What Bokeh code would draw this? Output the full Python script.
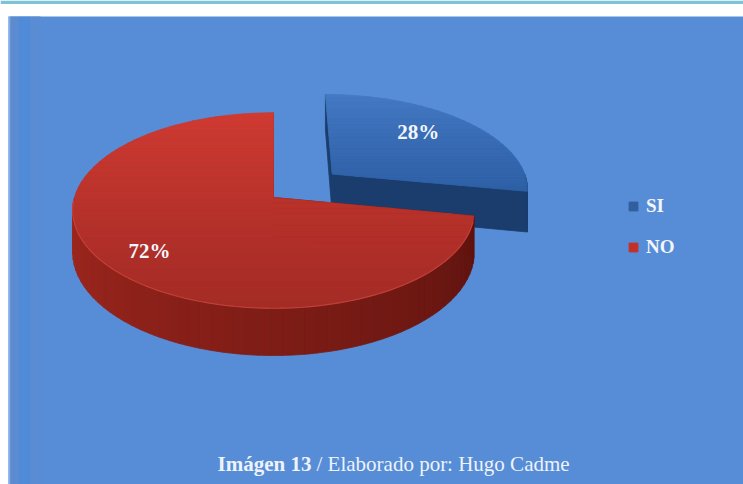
import numpy as np
from bokeh.plotting import figure
from bokeh.models import Range1d, ColumnDataSource, Legend, LegendItem
from bokeh.core.properties import value
from bokeh.embed import file_html
from bokeh.resources import INLINE

# ---------------- data ----------------
categories = ["SI", "NO"]
values = [28, 72]
pct_labels = ["28%", "72%"]
caption_bold = "Imágen 13"
caption_rest = "/ Elaborado por: Hugo Cadme"

# ---------------- style / geometry ----------------
W, H = 743, 484
X0, Y0 = 273.0, 197.0       # pie centre on screen
RX, RY = 199.0, 96.0        # ellipse radii
PERSP = 0.133               # mild perspective
DEPTH = 41.0                # thickness of the pie
EXPLODE = [0.395, 0.0]
START = 90.0
LABEL_R = [0.70, 0.78]
LABEL_SHIFT = [5.4, 2.4]    # degrees
top_colors = [("#4479c3", "#2d5fa5"), ("#d03a31", "#a42b25")]
side_colors = [("#1f467e", "#1a3d70"), ("#a2281f", "#5a110d")]
wall_colors = ["#1b3d6d", "#5e120e"]
legend_colors = ["#2f5f9f", "#c3302a"]
FONT = "Liberation Serif"


def proj(u, v, h=0.0):
    s = 1.0 / (1.0 + PERSP * v)
    return X0 + s * u * RX, Y0 - s * v * RY + s * h * DEPTH


def hex2rgb(c):
    c = c.lstrip("#")
    return np.array([int(c[i:i + 2], 16) for i in (0, 2, 4)], dtype=float)


def mix(c1, c2, f):
    a, b = hex2rgb(c1), hex2rgb(c2)
    r = a + (b - a) * f
    return "#%02x%02x%02x" % tuple(int(round(x)) for x in r)


def clip_half(poly, vcut, keep_above):
    out = []
    n = len(poly)
    for i in range(n):
        a, b = poly[i], poly[(i + 1) % n]
        ina = (a[1] >= vcut) if keep_above else (a[1] <= vcut)
        inb = (b[1] >= vcut) if keep_above else (b[1] <= vcut)
        if ina:
            out.append(a)
        if ina != inb:
            t = (vcut - a[1]) / (b[1] - a[1])
            out.append((a[0] + t * (b[0] - a[0]), vcut))
    return out


p = figure(width=W, height=H, x_range=Range1d(0, W), y_range=Range1d(H, 0),
           output_backend="svg", toolbar_location=None,
           x_axis_type=None, y_axis_type=None, min_border=0,
           background_fill_color="white", border_fill_color="white")
p.grid.visible = False
p.outline_line_color = None

# page decoration: teal rule and blue panel
p.quad(left=[0], right=[W], top=[0], bottom=[3.5], fill_color="#7ec2d5", line_color=None)
p.quad(left=[8], right=[W], top=[16], bottom=[H], fill_color="#578dd6", line_color=None)
p.quad(left=[8, 10, 18, 30], right=[10, 18, 30, 40], top=[16] * 4, bottom=[H] * 4,
       fill_color=["#86aee6", "#5d8bcf", "#4f8bd7", "#5a8cd3"], line_color=None)

total = float(sum(values))
cum = 0.0
slices = []
for i, val in enumerate(values):
    a_hi = START - cum / total * 360.0
    a_lo = START - (cum + val) / total * 360.0
    cum += val
    mid = np.radians((a_lo + a_hi) / 2.0)
    cu, cv = EXPLODE[i] * np.cos(mid), EXPLODE[i] * np.sin(mid)
    slices.append((a_lo, a_hi, cu, cv, mid))

label_pos = []
# draw back slice (SI) first, then the front one (NO)
for i in [0, 1]:
    a_lo, a_hi, cu, cv, mid = slices[i]
    # radial walls
    for th in (a_lo, a_hi):
        t = np.radians(th)
        ru, rv = cu + np.cos(t), cv + np.sin(t)
        pts = [proj(cu, cv, 0), proj(ru, rv, 0), proj(ru, rv, 1), proj(cu, cv, 1)]
        p.patch([q[0] for q in pts], [q[1] for q in pts], fill_color=wall_colors[i],
                line_color=wall_colors[i], line_width=0.8)
    # visible outer rim (front half)
    segs = []
    for k in range(-2, 2):
        lo, hi = max(a_lo, -180 + 360 * k), min(a_hi, 360 * k)
        if hi > lo:
            segs.append((lo, hi))
    xs_s, ys_s, cols_s = [], [], []
    for lo, hi in segs:
        n = max(2, int(np.ceil((hi - lo) / 3.0)))
        edges = np.linspace(lo, hi, n + 1)
        for j in range(n):
            tt = np.radians(np.linspace(edges[j], edges[j + 1], 4))
            top = [proj(cu + np.cos(t), cv + np.sin(t), 0) for t in tt]
            bot = [proj(cu + np.cos(t), cv + np.sin(t), 1) for t in tt[::-1]]
            pts = top + bot
            xs_s.append([q[0] for q in pts])
            ys_s.append([q[1] for q in pts])
            f = ((edges[j] + edges[j + 1]) / 2 - (-180)) / 180.0
            f = min(max(f, 0), 1)
            cols_s.append(mix(side_colors[i][0], side_colors[i][1], f))
    if xs_s:
        p.patches(xs=xs_s, ys=ys_s, fill_color=cols_s, line_color=cols_s, line_width=0.8)
    # top face with vertical gradient (bands in v)
    arc = np.radians(np.linspace(a_lo, a_hi, 240))
    poly = [(cu, cv)] + [(cu + np.cos(t), cv + np.sin(t)) for t in arc]
    vmin, vmax = min(q[1] for q in poly), max(q[1] for q in poly)
    nb = 36
    vb = np.linspace(vmin, vmax, nb + 1)
    xs_t, ys_t, cols_t = [], [], []
    for j in range(nb):
        band = clip_half(clip_half(poly, vb[j], True), vb[j + 1], False)
        if len(band) < 3:
            continue
        pts = [proj(u, v, 0) for u, v in band]
        xs_t.append([q[0] for q in pts])
        ys_t.append([q[1] for q in pts])
        f = (vmax - (vb[j] + vb[j + 1]) / 2.0) / max(1e-9, (vmax - vmin))
        cols_t.append(mix(top_colors[i][0], top_colors[i][1], min(max(f, 0), 1)))
    p.patches(xs=xs_t, ys=ys_t, fill_color=cols_t, line_color=cols_t, line_width=0.8)
    # percentage label position
    la = mid + np.radians(LABEL_SHIFT[i])
    label_pos.append(proj(cu + LABEL_R[i] * np.cos(la), cv + LABEL_R[i] * np.sin(la), 0))

# light edge on the front rim of the big slice
tt = np.radians(np.linspace(-178, -14, 120))
a_lo, a_hi, cu, cv, mid = slices[1]
rim = [proj(cu + np.cos(t), cv + np.sin(t), 0) for t in tt]
p.line([q[0] for q in rim], [q[1] for q in rim], line_color="#c8463d", line_width=1.2, line_alpha=0.8)

lab_src = ColumnDataSource(dict(x=[q[0] for q in label_pos], y=[q[1] for q in label_pos], text=pct_labels))
p.text(x="x", y="y", text="text", source=lab_src, text_align="center", text_baseline="middle",
       text_font=value(FONT), text_font_style="bold", text_font_size="21px", text_color="#f3f5fb")

# legend (glyph renderers with a single point placed outside the visible range)
items = []
for i, cat in enumerate(categories):
    r = p.scatter(x=[-100], y=[-100], marker="square", fill_color=legend_colors[i],
                  line_color=legend_colors[i])
    items.append(LegendItem(label=cat, renderers=[r]))
legend = Legend(items=items, location=(622, 226), orientation="vertical",
                glyph_width=22, glyph_height=22, label_height=22, spacing=19,
                label_standoff=2, padding=0, margin=0,
                label_text_font=FONT, label_text_font_style="bold",
                label_text_font_size="19px", label_text_color="#f3f5fb",
                background_fill_alpha=0, border_line_alpha=0)
p.add_layout(legend, "center")

# caption
p.text(x=[217], y=[463], text=[caption_bold], text_align="left", text_baseline="alphabetic",
       text_font=value(FONT), text_font_style="bold", text_font_size="21px", text_color="#eef3fb")
p.text(x=[316], y=[463], text=[caption_rest], text_align="left", text_baseline="alphabetic",
       text_font=value(FONT), text_font_style="normal", text_font_size="21px", text_color="#eef3fb")

open("out.html", "w").write(file_html(p, INLINE))
